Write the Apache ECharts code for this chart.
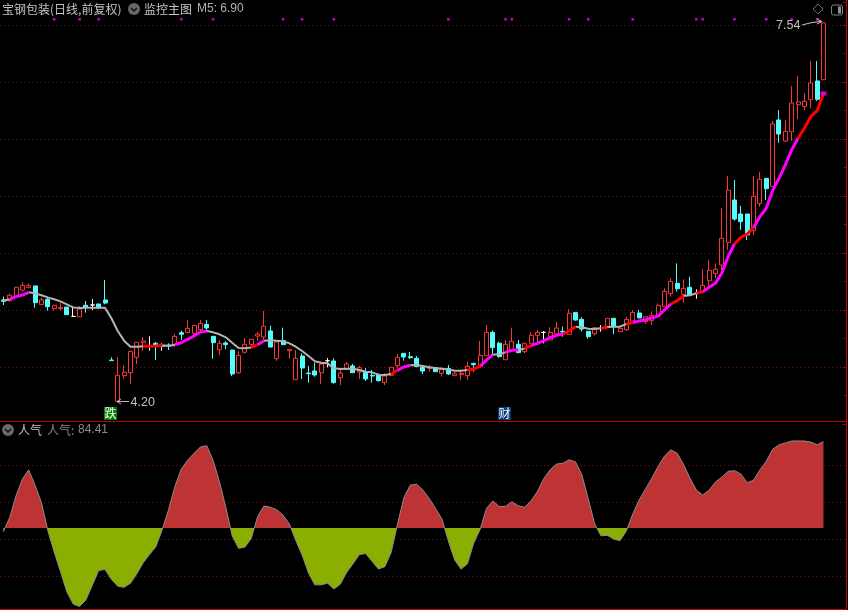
<!DOCTYPE html>
<html><head><meta charset="utf-8">
<style>html,body{margin:0;padding:0;background:#000}#c{width:848px;height:610px}</style>
<script src="https://cdn.jsdelivr.net/npm/echarts@6/dist/echarts.min.js"></script>
</head><body><div id="c"></div>
<script>
// [open, close, low, high]
const candles = [
[5.088,5.076,5.044,5.117],[5.082,5.129,5.073,5.146],[5.117,5.199,5.117,5.199],[5.175,5.216,5.161,5.246],[5.199,5.213,5.190,5.234],
[5.211,5.064,5.020,5.211],[5.047,5.088,5.047,5.108],[5.094,5.029,4.994,5.108],[5.012,5.041,4.994,5.041],[5.012,5.023,4.994,5.064],
[5.026,4.959,4.959,5.026],[4.944,4.944,4.941,5.020],[4.941,5.009,4.941,5.035],[5.041,5.023,4.977,5.079],[5.044,5.044,5.000,5.096],
[5.053,5.020,5.006,5.053],[5.088,5.061,5.050,5.263],[4.561,4.556,4.556,4.585],[4.196,4.427,4.196,4.585],[4.424,4.453,4.398,4.515],
[4.450,4.637,4.354,4.637],[4.585,4.716,4.526,4.716],[4.713,4.728,4.643,4.760],[4.684,4.684,4.643,4.769],[4.708,4.693,4.561,4.719],
[4.684,4.684,4.643,4.708],[4.693,4.687,4.649,4.708],[4.699,4.769,4.678,4.789],[4.801,4.787,4.737,4.819],[4.801,4.839,4.801,4.912],
[4.795,4.865,4.760,4.865],[4.827,4.883,4.801,4.912],[4.874,4.842,4.810,4.912],[4.769,4.713,4.573,4.769],[4.652,4.708,4.605,4.737],
[4.711,4.696,4.655,4.725],[4.649,4.439,4.421,4.649],[4.450,4.602,4.439,4.637],[4.629,4.699,4.620,4.754],[4.696,4.743,4.672,4.743],
[4.772,4.789,4.731,4.807],[4.763,4.857,4.737,4.991],[4.816,4.675,4.675,4.862],[4.573,4.719,4.556,4.737],[4.731,4.696,4.696,4.845],
[4.643,4.655,4.573,4.655],[4.389,4.576,4.389,4.649],[4.596,4.491,4.395,4.620],[4.447,4.441,4.363,4.509],[4.465,4.430,4.415,4.538],
[4.450,4.526,4.351,4.547],[4.555,4.555,4.497,4.579],[4.553,4.363,4.354,4.576],[4.406,4.447,4.342,4.479],[4.479,4.526,4.479,4.544],
[4.509,4.450,4.450,4.526],[4.456,4.494,4.395,4.509],[4.456,4.395,4.377,4.491],[4.427,4.421,4.363,4.474],[4.433,4.380,4.371,4.444],
[4.365,4.421,4.342,4.444],[4.427,4.497,4.421,4.497],[4.512,4.585,4.488,4.614],[4.620,4.588,4.555,4.620],[4.591,4.582,4.570,4.632],
[4.576,4.503,4.503,4.596],[4.497,4.465,4.439,4.517],[4.488,4.494,4.459,4.517],[4.494,4.459,4.459,4.494],[4.444,4.479,4.415,4.497],
[4.488,4.439,4.430,4.517],[4.424,4.441,4.424,4.459],[4.433,4.444,4.386,4.479],[4.424,4.506,4.386,4.544],[4.532,4.520,4.459,4.532],
[4.503,4.602,4.497,4.728],[4.599,4.804,4.599,4.868],[4.804,4.670,4.599,4.819],[4.708,4.591,4.582,4.722],[4.564,4.699,4.564,4.737],
[4.649,4.725,4.649,4.845],[4.699,4.626,4.626,4.737],[4.634,4.708,4.620,4.708],[4.708,4.778,4.708,4.807],[4.778,4.804,4.693,4.824],
[4.804,4.804,4.708,4.816],[4.737,4.804,4.737,4.848],[4.789,4.842,4.766,4.895],[4.813,4.807,4.766,4.854],[4.786,4.971,4.786,5.006],
[4.979,4.912,4.906,4.979],[4.918,4.833,4.810,4.936],[4.813,4.766,4.749,4.813],[4.792,4.845,4.775,4.845],[4.839,4.839,4.810,4.868],
[4.854,4.927,4.854,4.927],[4.927,4.854,4.789,4.927],[4.810,4.839,4.810,4.854],[4.827,4.918,4.819,4.941],[4.903,4.979,4.903,5.000],
[4.974,4.930,4.930,5.000],[4.898,4.941,4.877,4.947],[4.906,4.950,4.868,4.988],[4.950,5.041,4.950,5.058],[5.029,5.164,5.029,5.190],
[5.143,5.251,5.117,5.278],[5.234,5.187,5.161,5.409],[5.137,5.190,5.064,5.269],[5.199,5.132,5.132,5.292],[5.146,5.146,5.099,5.181],
[5.161,5.216,5.146,5.357],[5.257,5.348,5.205,5.439],[5.319,5.357,5.278,5.409],[5.395,5.629,5.351,5.892],[5.591,6.050,5.526,6.175],
[5.965,5.798,5.784,6.140],[5.842,5.775,5.702,5.912],[5.842,5.658,5.614,5.842],[5.696,5.997,5.658,6.175],[5.933,6.146,5.906,6.211],
[6.155,6.064,5.965,6.155],[6.082,6.632,6.082,6.658],[6.667,6.544,6.468,6.754],[6.482,6.567,6.477,6.667],[6.564,6.816,6.482,6.965],
[6.801,6.825,6.675,7.053],[6.784,6.830,6.754,6.901],[6.845,6.991,6.769,7.184],[7.009,6.848,6.833,7.184],[7.020,7.518,7.020,7.518]
];
const m5Values = [
5.082,5.094,5.117,5.131,5.155,5.146,5.129,5.111,5.094,5.076,5.050,5.023,5.018,5.020,5.020,5.020,5.020,4.927,4.816,4.731,
4.678,4.678,4.681,4.681,4.684,4.690,4.684,4.696,4.713,4.743,4.772,4.807,4.816,4.804,4.787,4.760,4.713,4.667,4.664,4.672,
4.696,4.731,4.734,4.731,4.725,4.708,4.678,4.640,4.596,4.550,4.538,4.532,4.488,4.482,4.485,4.485,4.474,4.459,4.453,4.433,
4.430,4.439,4.471,4.500,4.515,4.517,4.509,4.497,4.491,4.485,4.479,4.468,4.468,4.474,4.482,4.509,4.561,4.608,4.611,4.629,
4.646,4.649,4.661,4.687,4.708,4.731,4.757,4.778,4.789,4.816,4.854,4.848,4.836,4.833,4.839,4.851,4.854,4.854,4.877,4.889,
4.903,4.915,4.930,4.947,5.000,5.053,5.082,5.123,5.129,5.146,5.161,5.199,5.234,5.322,5.468,5.579,5.637,5.667,5.722,5.819,
5.892,6.047,6.155,6.272,6.404,6.506,6.594,6.696,6.749,6.900
];
// trend state of the M5 stretch that starts at each point: g grey, m magenta, r red
const m5States = ("g mmm gggggggggggggggggg rrr gg mmmmm ggggggg r m gggggggggggggggggggg r mm ggggggggg rr mm gg mm g r mmmmm rr gggg r ggg r mmmmmm rr gg r mmmmm rrr mmmmmmm rrrrr").replace(/ /g,"").split("");
const popularity = [
-3.6,10.1,31.4,47.8,56.9,41.8,24.8,-2.5,-23.5,-42.7,-62.5,-74.4,-76.8,-70.3,-56.0,-41.5,-40.5,-50.2,-56.9,-57.9,
-54.1,-44.8,-34.0,-25.9,-18.2,-1.6,18.0,40.8,57.8,66.3,73.1,79.2,80.5,66.1,45.1,20.3,-7.6,-19.9,-18.7,-10.2,
11.2,21.5,20.4,17.9,12.6,3.9,-12.2,-26.5,-44.0,-55.6,-55.6,-53.9,-59.7,-55.0,-43.6,-35.0,-26.0,-24.9,-32.6,-40.1,
-37.9,-24.0,3.6,29.7,41.9,42.9,37.1,28.9,18.9,8.7,-12.7,-31.3,-40.2,-35.0,-14.6,-1.4,19.2,26.4,21.1,21.2,
25.7,21.7,20.3,26.6,35.6,48.2,56.9,62.5,63.3,66.7,64.7,52.0,28.6,4.2,-7.6,-7.2,-10.8,-12.4,-2.8,13.6,
27.3,38.0,48.7,60.3,70.4,76.5,73.0,62.0,48.8,37.2,32.3,36.9,44.9,49.7,55.4,56.1,52.8,44.3,46.7,56.8,
65.2,77.0,81.3,83.1,85.1,85.1,85.1,84.1,81.4,84.41
];
const signalDays = [8,12,15,28,33,44,47,52,70,79,80,89,92,99,109,110,115,120,124,128];
const signalLevel = 7.55;
const popularityGridLevels = [61.3,25.1,-11.1,-47.3];
const categories = Array.from({length:133},(_,i)=>String(i));

const DOT='#801010', GREY='#c2c2c2', FRAME='#c00000';
const LEFT=0.12, WIDTH=845.6;
const states=[['g','#b4b4b4',2],['m','#ff00ff',3],['r','#ff0000',3]];
const m5Series=states.map(([s,col,w])=>({
  type:'line',name:'M5-'+s,xAxisIndex:0,yAxisIndex:0,symbol:'none',z:4,connectNulls:false,
  lineStyle:{color:col,width:w,cap:'butt'},
  data:m5Values.map((v,i)=>(m5States[i]===s||m5States[i-1]===s)?v:null)
}));

const txt=(x,y,t,fill,size,font)=>({type:'text',x,y,z:50,style:{text:t,fill:fill||GREY,font:(size||12)+'px '+(font||'"Noto Sans CJK SC"'),verticalAlign:'middle'}});
const icon=(cx,cy)=>[
 {type:'circle',z:50,shape:{cx,cy,r:6},style:{fill:'#686868'}},
 {type:'polyline',z:51,shape:{points:[[cx-3,cy-1],[cx,cy+2],[cx+3,cy-1]]},style:{stroke:'#111',fill:null,lineWidth:1.5}}
];
const seg=(pts,col,w)=>({type:'polyline',z:50,shape:{points:pts},style:{stroke:col,fill:null,lineWidth:w||1}});
const box=(x,y,t,bg)=>[
 {type:'rect',z:50,shape:{x,y,width:13,height:13},style:{fill:bg}},
 {type:'text',x:x+0.5,y:y+6.5,z:51,style:{text:t,fill:'#fff',font:'12px "Noto Sans CJK SC"',verticalAlign:'middle'}}
];

const graphics=[
 seg([[0,421.5],[846,421.5]],FRAME),
 seg([[0,609.5],[846,609.5]],FRAME),
 seg([[846.5,0],[846.5,610]],FRAME),
 txt(2,9,'宝钢包装(日线,前复权)','#c4c4c4'),
 ...icon(134,9),
 txt(144,9,'监控主图','#c4c4c4'),
 txt(197,9,'M5: 6.90','#b0b0b0',12,'"Liberation Sans"'),
 ...icon(8,430),
 txt(18,430,'人气','#c4c4c4'),
 txt(47,430,'人气:','#8a8a8a'),
 txt(78,430,'84.41','#8a8a8a',12,'"Liberation Sans"'),
 txt(776,26,'7.54','#c0c0c0',12.5,'"Liberation Sans"'),
 seg([[802,25],[812,22.5],[821,21.5]],'#c8c8c8'),
 seg([[817,19],[822,21.5],[817,24]],'#c8c8c8'),
 txt(130.5,402.5,'4.20','#c0c0c0',12.5,'"Liberation Sans"'),
 seg([[117,401.5],[129,401.5]],'#b8b8b8'),
 seg([[121,399],[117,401.5],[121,404]],'#b8b8b8'),
 ...box(104,407,'跌','#008000'),
 ...box(498,407,'财','#0b3a7a'),
 {type:'polygon',z:50,shape:{points:[[818,4],[823,9],[818,14],[813,9]]},style:{stroke:'#707070',fill:null,lineWidth:1}},
 {type:'rect',z:50,shape:{x:831.5,y:5,width:11,height:10,r:2},style:{stroke:'#808080',fill:null,lineWidth:1}},
 {type:'rect',z:50,shape:{x:838,y:6.5,width:3,height:7},style:{fill:'#909090'}}
];

const option={
 backgroundColor:'#000',animation:false,
 grid:[
  {left:LEFT,top:2.2,width:WIDTH,height:421.8},
  {left:LEFT,top:421,width:WIDTH,height:188}
 ],
 xAxis:[
  {type:'category',gridIndex:0,data:categories,show:false},
  {type:'category',gridIndex:1,data:categories,show:false}
 ],
 yAxis:[
  {type:'value',gridIndex:0,min:4,max:7.7,interval:0.5,position:'right',
   axisLine:{show:false},axisLabel:{show:false},
   axisTick:{show:true,inside:true,length:3,lineStyle:{color:FRAME}},
   minorTick:{show:true,splitNumber:2,length:2,lineStyle:{color:FRAME}},
   splitLine:{show:true,showMinLine:false,showMaxLine:false,lineStyle:{color:DOT,type:[1,3],width:1}}},
  {type:'value',gridIndex:1,min:-79.2,max:104.66,axisLine:{show:false},axisLabel:{show:false},axisTick:{show:false},splitLine:{show:false}}
 ],
 series:[
  {type:'candlestick',name:'K',xAxisIndex:0,yAxisIndex:0,data:candles,barWidth:4.5,z:3,
   itemStyle:{color:'#000',color0:'#55fcfc',borderColor:'#f83838',borderColor0:'#55fcfc',borderColorDoji:'#ffffff',borderWidth:1}},
  ...m5Series,
  {type:'scatter',name:'M5 end',xAxisIndex:0,yAxisIndex:0,symbol:'rect',symbolSize:[6,4],z:5,
   itemStyle:{color:'#ff00ff'},data:[[129,m5Values[129]]]},
  {type:'scatter',name:'信号',xAxisIndex:0,yAxisIndex:0,symbol:'rect',symbolSize:2.5,z:5,
   itemStyle:{color:'#ff00ff'},data:signalDays.map(d=>[d,signalLevel])},
  {type:'line',name:'人气',xAxisIndex:1,yAxisIndex:1,data:popularity,symbol:'none',z:3,
   lineStyle:{color:'#8c8c8c',width:1},
   areaStyle:{opacity:1,color:{type:'linear',x:0,y:421,x2:0,y2:609,global:true,colorStops:[
     {offset:0,color:'#be3333'},{offset:0.569,color:'#be3333'},{offset:0.569,color:'#8aaf00'},{offset:1,color:'#8aaf00'}]}},
   markLine:{silent:true,symbol:'none',z:1,label:{show:false},animation:false,
     lineStyle:{color:DOT,type:[1,3],width:1},
     data:popularityGridLevels.map(v=>({yAxis:v}))}}
 ],
 graphic:graphics
};
const chart=echarts.init(document.getElementById('c'),null,{renderer:'canvas',width:848,height:610,devicePixelRatio:1});
chart.setOption(option);
</script></body></html>
